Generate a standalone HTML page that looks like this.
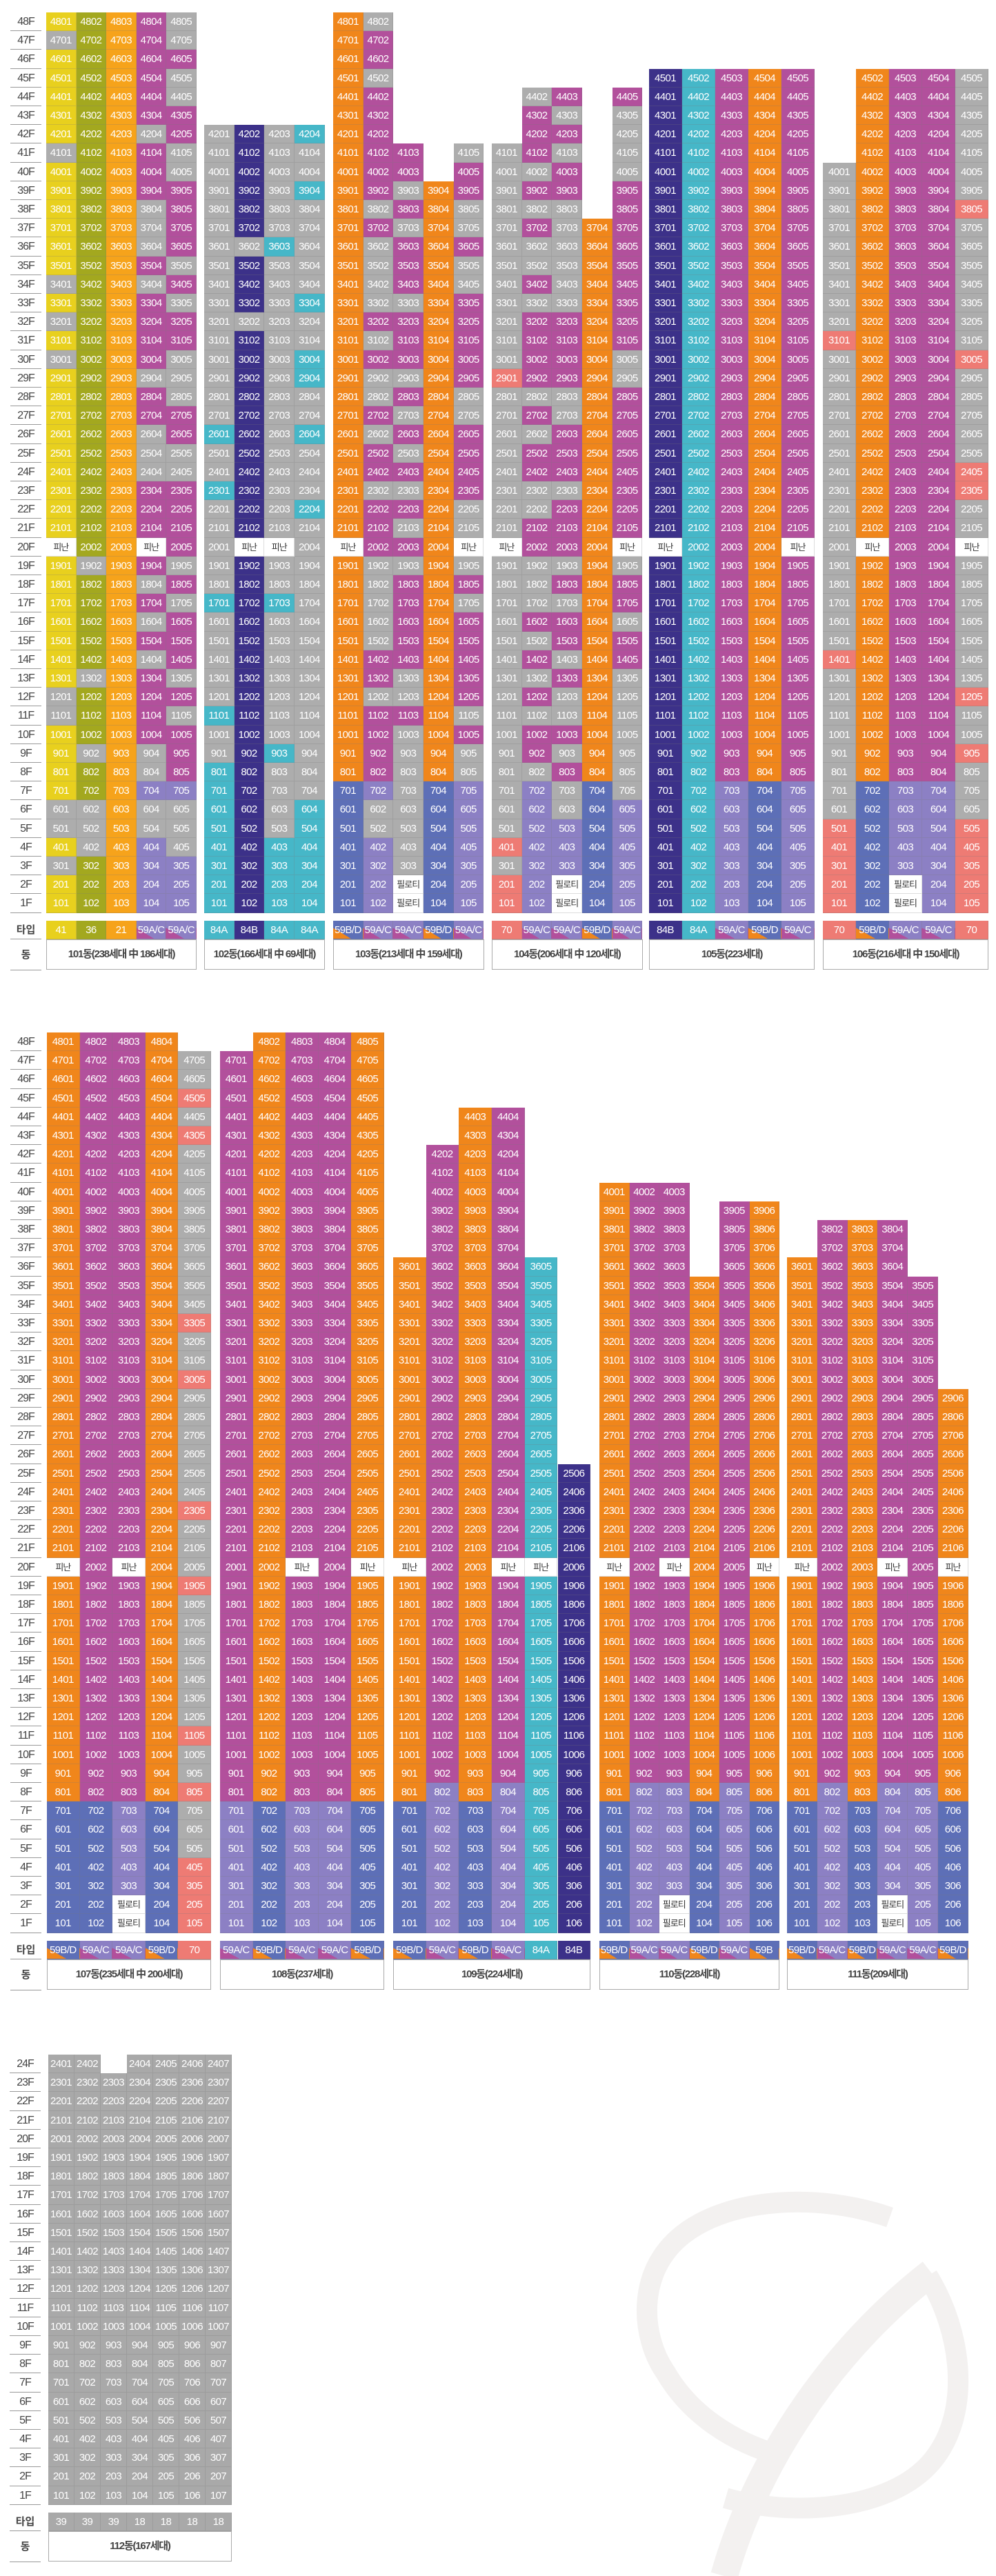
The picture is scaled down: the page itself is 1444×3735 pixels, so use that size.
<!DOCTYPE html>
<html><head><meta charset="utf-8">
<style>
html,body{margin:0;padding:0;background:#fff;}
#root{position:relative;width:1444px;height:3735px;overflow:hidden;font-family:"Liberation Sans Narrow","Liberation Sans","Noto Sans CJK KR",sans-serif;}
.c{position:absolute;box-sizing:border-box;color:#fff;font-size:15px;letter-spacing:-0.6px;text-align:center;border-right:1px solid rgba(120,120,120,0.25);border-bottom:1px solid rgba(120,120,120,0.25);white-space:nowrap;overflow:hidden;}
.w{color:#333;background:#fff;font-family:"Liberation Sans","Noto Sans CJK KR",sans-serif;font-size:13px;letter-spacing:-1px;}
.fl{position:absolute;box-sizing:border-box;color:#444;font-size:16px;letter-spacing:-1px;text-align:center;border-bottom:1.5px solid #999;}
.lab{position:absolute;box-sizing:border-box;color:#444;font-size:15px;font-weight:bold;text-align:center;border-bottom:1.5px solid #999;font-family:"Liberation Sans","Noto Sans CJK KR",sans-serif;}
.dong{position:absolute;box-sizing:border-box;border:1.5px solid #aaa;background:#fff;color:#444;font-size:15px;font-weight:bold;letter-spacing:-1.2px;text-align:center;font-family:"Liberation Sans Narrow","Liberation Sans","Noto Sans CJK KR",sans-serif;}
</style></head>
<body>
<div id="root">
<svg style="position:absolute;left:0;top:0" width="1444" height="3735">
 <g fill="none" stroke="#f3f1f0" stroke-width="30">
  <path d="M1290,3215 C1190,3180 1060,3185 990,3240 C920,3295 930,3390 965,3440 C1000,3500 1060,3540 1130,3560" />
  <path d="M1052,3622 C1150,3650 1290,3640 1350,3570 C1410,3500 1395,3380 1345,3300" />
  <path d="M1050,3735 C1090,3590 1190,3420 1350,3295" stroke-width="40"/>
 </g>
</svg>
</div>
<script>
const colorMap={Y:'#e8d01e',G:'#a3a81f',A:'#f6a31b',O:'#f0861b',P:'#b2509c',S:'#adadad',V:'#8c80c4',B:'#5d6fb7',N:'#3c3189',C:'#46b7c8',R:'#ee7b74',H:'#a9a9a9',W:'#ffffff'};
const typeColors={AC:'linear-gradient(to top right,#b2509c 0,#b2509c 30%,#8c80c4 30%)',BD:'linear-gradient(to top right,#f0861b 0,#f0861b 30%,#5d6fb7 30%)'};

const blockNames=['101동(238세대 中 186세대)','102동(166세대 中 69세대)','103동(213세대 中 159세대)','104동(206세대 中 120세대)','105동(223세대)','106동(216세대 中 150세대)','107동(235세대 中 200세대)','108동(237세대)','109동(224세대)','110동(228세대)','111동(209세대)','112동(167세대)'];
const blockSection=[0,0,0,0,0,0,1,1,1,1,1,2];
const blockX=[67,296,483,713,941,1193,68,319,570,869,1141,70];
const blockColW=[43.6,43.7,43.7,43.7,48,48,47.6,47.6,47.7,43.5,43.8,38];
const blockCols=[
 ["48|Y|47S,41S,34S,32S,30S,20W,12S,11S,6S,5S,3S","48|G|19S,13S,9S,6S,5S,4S","48|A|","48|P|42S,38S,37S,36S,34S,29S,26S,25S,24S,20W,18S,16S,14S,9S,8S,7V,6S,5S,4-1V","48|S|46P,43P,42P,39P,38P,37P,36P,34P,32P,31P,27P,26P,23P,22P,21P,20P,18P,16P,15P,14P,12P,10P,9P,8P,7V,3-1V"],
 ["42|S|26C,23C,17C,11C,8-1C","42|N|36S,32S,20W","42|S|36C,20W,17C,9C,4-1C","42|S|42C,39C,33C,30C,29C,26C,22C,6-1C"],
 ["48|O|20W,7-1B","48|P|48S,45S,38S,36-33S,31S,29S,28S,26S,23S,19-15S,12S,7V,6S,5S,4-1V","41|P|39S,37S,33S,29S,27S,25S,23S,21S,19S,13S,12S,10-3S,2-1W","39|O|7-1B","41|P|41S,38S,37S,35S,34S,28S,27S,22S,21S,20W,19S,17S,11S,9S,8S,7-1V"],
 ["41|S|29R,20W,4R,2R,1R","44|P|44S,40S,38S,36S,35S,33S,28S,26S,23S,22S,19S,18S,17S,15S,13S,11S,8S,7-1V","44|P|43S,41S,38-33S,28S,27S,23S,19S,17S,14S,12S,11S,9S,7S,6S,5-3V,2-1W","37|O|7-1B","44|P|43-40S,30S,29S,20W,19S,16S,13-7S,6-1V"],
 ["45|N|20W","45|C|","45|P|7-1V","45|O|7-1B","45|P|20W,7-1V"],
 ["40|S|31R,14R,5-1R","45|O|20W,7-1B","45|P|7-1V,2-1W","45|P|7-1V","45|S|38R,30R,24R,23R,20W,12R,9R,5-1R"],
 ["48|O|20W,7-1B","48|P|7-1B","48|P|20W,7-3V,2-1W","48|O|7-1B","47|S|45R,43R,33R,30R,23R,19R,11R,8R,4-1R"],
 ["47|P|7-1V","48|O|7-1B","48|P|20W,7-1V","48|P|7-1V","48|O|20W,7-1B"],
 ["36|O|20W,7-1B","42|P|8-1V","44|O|7-1B","44|P|20W,8-1V","36|C|20W","25|N|"],
 ["40|O|20W,7-1B","40|P|8-1V","40|P|20W,8-1V,2-1W","35|O|7-1B","39|P|8-1V","39|O|20W,7-1B"],
 ["36|O|20W,7-1B","38|P|8-1V","38|O|7-1B","38|P|20W,8-1V,2-1W","35|P|8-1V","29|O|20W,7-1B"],
 ["24|H|","24|H|","23|H|","24|H|","24|H|","24|H|","24|H|"]
];
const typeLabels=[
 ['41','36','21','59A/C','59A/C'],['84A','84B','84A','84A'],['59B/D','59A/C','59A/C','59B/D','59A/C'],['70','59A/C','59A/C','59B/D','59A/C'],
 ['84B','84A','59A/C','59B/D','59A/C'],['70','59B/D','59A/C','59A/C','70'],['59B/D','59A/C','59A/C','59B/D','70'],['59A/C','59B/D','59A/C','59A/C','59B/D'],
 ['59B/D','59A/C','59B/D','59A/C','84A','84B'],['59B/D','59A/C','59A/C','59B/D','59A/C','59B'],['59B/D','59A/C','59B/D','59A/C','59A/C','59B/D'],['39','39','39','18','18','18','18']
];
const typeKinds=[
 ['Y','G','A','AC','AC'],['C','N','C','C'],['BD','AC','AC','BD','AC'],['R','AC','AC','BD','AC'],['N','C','AC','BD','AC'],['R','BD','AC','AC','R'],
 ['BD','AC','AC','BD','R'],['AC','BD','AC','AC','BD'],['BD','AC','BD','AC','C','N'],['BD','AC','AC','BD','AC','BD'],['BD','AC','BD','AC','AC','BD'],['H','H','H','H','H','H','H']
];
const sectionTopFloor=[48,48,24];
const sectionTopY=[18,1497,2979];
const ROW=27.2;

const root=document.getElementById('root');
function mk(cls,x,y,w,h,txt){
 const d=document.createElement('div');d.className=cls;
 d.style.left=x+'px';d.style.top=y+'px';d.style.width=w+'px';d.style.height=h+'px';d.style.lineHeight=h+'px';
 if(txt!==undefined)d.textContent=txt;root.appendChild(d);return d;
}
function rowY(s,f){return sectionTopY[s]+(sectionTopFloor[s]-f)*ROW;}
function parseCol(spec){
 const [t,base,ex]=spec.split('|');const top=+t;const arr={};
 for(let f=1;f<=top;f++)arr[f]=base;
 if(ex)ex.split(',').forEach(e=>{const m=e.match(/^(\d+)(?:-(\d+))?([A-Z])$/);const a=+m[1],b=m[2]?+m[2]:a;
  for(let f=Math.min(a,b);f<=Math.max(a,b);f++)if(f<=top)arr[f]=m[3];});
 return {top,arr};
}
for(let s=0;s<3;s++){
 const lx=s==2?14:15;
 for(let f=sectionTopFloor[s];f>=1;f--){
  const d=mk('fl',lx,rowY(s,f),45,ROW,f+'F');
  
  
 }
 const ty=rowY(s,1)+ROW+11;
 const l1=mk('lab',lx,ty,45,27,'타입');
 
 
 const l2=mk('lab',lx,ty+27,45,45,'동');
 
 
}
blockNames.forEach((name,bi)=>{
 const s=blockSection[bi],x0=blockX[bi],cw=blockColW[bi];
 blockCols[bi].forEach((spec,ci)=>{
  const {top,arr}=parseCol(spec);
  const x=x0+ci*cw;
  for(let f=top;f>=1;f--){
   const code=arr[f];
   let txt=String(f*100+ci+1);
   if(code==='W')txt=(f===20?'피난':'필로티');
   const d=mk(code==='W'?'c w':'c',x,rowY(s,f),cw,ROW,txt);
   if(code!=='W')d.style.background=colorMap[code];
   
   
  }
  const ty=rowY(s,1)+ROW+11;
  const k=typeKinds[bi][ci];
  const t=mk('c',x,ty,cw,27,typeLabels[bi][ci]);
  t.style.background=typeColors[k]||colorMap[k];
  
  
 });
 const ty=rowY(s,1)+ROW+11;
 const n=blockCols[bi].length;
 const dn=mk('dong',x0,ty+27,n*cw,44,name);
 dn.style.lineHeight='42px';
 
 
});
</script>
</body></html>
